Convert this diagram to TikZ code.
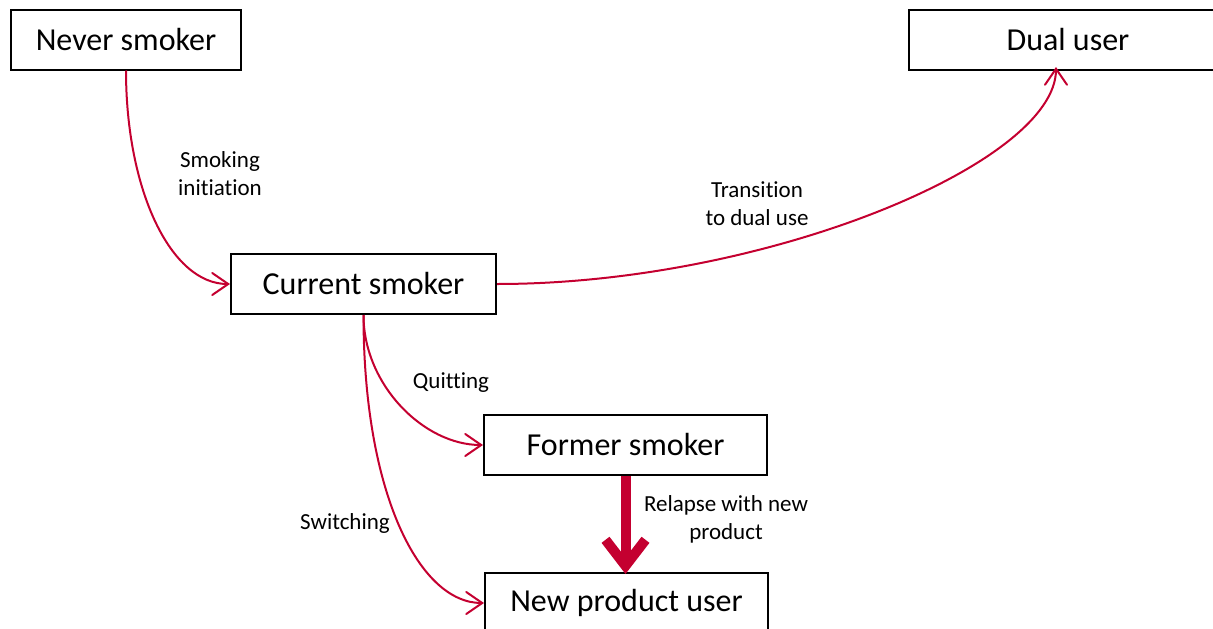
\documentclass[tikz,border=0pt]{standalone}
\usepackage{fontspec}
\setmainfont{Carlito}[Ligatures={NoCommon,NoContextual,NoRequired},Contextuals=NoAlternate]
\usetikzlibrary{arrows.meta}
\definecolor{flowred}{RGB}{196,0,48}
% break the font's "ti" ligature
\newcommand{\nolig}{\kern0pt{}}
\begin{document}
\begin{tikzpicture}[x=1pt,y=-1pt,
  state/.style={draw=black,line width=2pt,fill=white,minimum height=60pt,
    inner sep=0pt,font=\fontsize{32}{38}\selectfont},
  lbl/.style={align=center,inner sep=0pt,font=\fontsize{23}{28}\selectfont},
  flow/.style={draw=flowred,line width=2pt,
    -{Straight Barb[length=16pt,width=22pt,line cap=round]}},
  bigflow/.style={draw=flowred,line width=10pt,
    -{Straight Barb[length=26pt,width=40pt]}}]
\useasboundingbox (0,0) rectangle (1213,629);
% states
\node[state,minimum width=230pt] (never)   at (126,39.5)  {Never smoker};
\node[state,minimum width=318pt] (dual)    at (1068,40)   {Dual user};
\node[state,minimum width=265pt] (current) at (363.5,284) {Current smoker};
\node[state,minimum width=283pt] (former)  at (625.5,445) {Former smoker};
\node[state,minimum width=283pt] (newprod) at (626.5,603) {New product user};
% transitions
\draw[flow] (never.south) .. controls ++(0,120) and (171,284) .. (current.west);
\coordinate (dualin) at ([xshift=-12pt,yshift=4pt]dual.south);
\draw[flow] (current.east) .. controls (766,284) and (1056,163) .. (dualin);
\draw[flow] (current.south) .. controls ++(0,70) and (424,445) .. (former.west);
\draw[flow] (current.south) .. controls ++(0,180) and (420,603) .. (newprod.west);
\coordinate (relapsein) at ([yshift=-2pt]newprod.north -| former.south);
\draw[bigflow] (former.south) -- (relapsein);
% transition labels
\node[lbl] (lsmk) at (220,174) {Smoking\\init\nolig iat\nolig ion};
\node[lbl] (ldual) at (757,204) {Transit\nolig ion\\to dual use};
\node[lbl] (lquit) at (451,383) {Quitt\nolig ing};
\node[lbl] (lswitch) at (345,523) {Switching};
\node[lbl] (lrelapse) at (726,519) {Relapse with new\\product};
\end{tikzpicture}
\end{document}
